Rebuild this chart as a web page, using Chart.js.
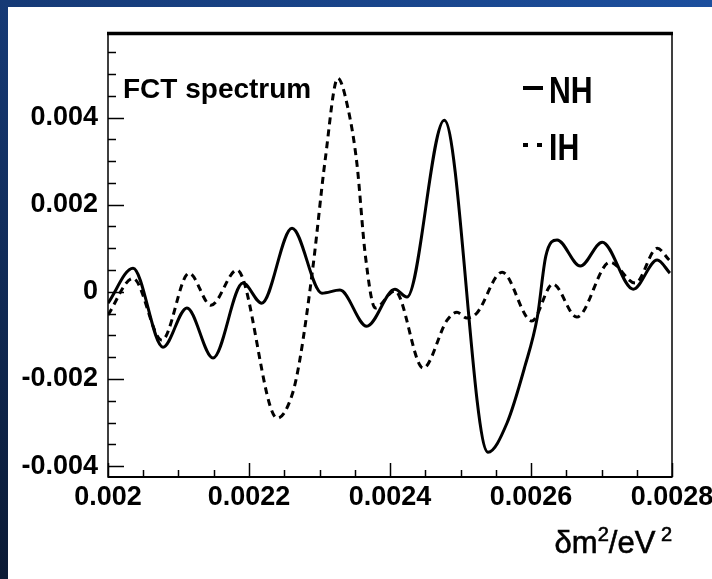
<!DOCTYPE html>
<html>
<head>
<meta charset="utf-8">
<script src="https://cdn.jsdelivr.net/npm/chart.js@4/dist/chart.umd.min.js"></script>
<style>
  html, body { margin: 0; padding: 0; background: #ffffff; }
  #wrap { width: 712px; height: 579px; position: relative; }
</style>
</head>
<body>
<div id="wrap"><canvas id="c" width="712" height="579"></canvas></div>
<script>
// ---- data ----
const xTickValues = [0.002, 0.0022, 0.0024, 0.0026, 0.0028];
const xTickLabels = ['0.002', '0.0022', '0.0024', '0.0026', '0.0028'];
const yTickValues = [-0.004, -0.002, 0, 0.002, 0.004];
const yTickLabels = ['-0.004', '-0.002', '0', '0.002', '0.004'];

const seriesNames = ['NH', 'IH'];
const titleText = 'FCT spectrum';

const nhX = [0.002000, 0.0020355, 0.002078, 0.002112, 0.002149, 0.0021915, 0.002218, 0.002261,
             0.0023035, 0.002329, 0.002367, 0.002407, 0.002424, 0.002477, 0.002539, 0.002566,
             0.002591, 0.002609, 0.002621, 0.002637, 0.002670, 0.002701, 0.002745, 0.002779, 0.002797];
const nhY = [-0.00026, 0.00054, -0.00127, -0.00037, -0.00152, 0.00020, -0.00026, 0.00146,
             -0.00003, 0.00004, -0.00079, 0.00006, -0.00012, 0.00394, -0.00368, -0.00301,
             -0.00173, -0.00058, 0.00082, 0.00119, 0.00059, 0.00114, 0.00006, 0.00073, 0.00043];

const ihX = [0.002000, 0.0020355, 0.0020766, 0.002115, 0.002146, 0.002183, 0.002240, 0.002261,
             0.002272, 0.002291, 0.002308, 0.002326, 0.002340, 0.002353, 0.002365, 0.002379,
             0.002407, 0.002447, 0.002481, 0.002495, 0.002509, 0.002523, 0.002559, 0.002601,
             0.002631, 0.002665, 0.002712, 0.002748, 0.002779, 0.002796];
const ihY = [-0.00053, 0.00031, -0.00111, 0.00043, -0.00031, 0.00050, -0.00290, -0.00237,
             -0.00157, 0.00061, 0.00302, 0.00490, 0.00424, 0.00295, 0.00084, -0.00037,
             0.00002, -0.00175, -0.00065, -0.00047, -0.00060, -0.00049, 0.00045, -0.00067,
             0.00018, -0.00058, 0.00068, 0.00020, 0.00100, 0.00073];

const xMin = 0.002, xMax = 0.0028;
const yMin = -0.00425, yMax = 0.00594;
const xMinorStep = 0.00005, yMinorStep = 0.0005;

// ---- styling ----
const FONT = "'Liberation Sans', Arial, Helvetica, sans-serif";

const toPoints = (xs, ys) => xs.map((x, i) => ({ x: x, y: ys[i] }));

const decor = {
  id: 'decor',
  beforeDraw(chart) {
    const { ctx, width, height } = chart;
    ctx.save();
    const g = ctx.createLinearGradient(0, height, width, 0);
    g.addColorStop(0, '#0b1a34');
    g.addColorStop(0.4, '#163a76');
    g.addColorStop(1, '#1c4f9e');
    ctx.fillStyle = g;
    ctx.fillRect(0, 0, width, height);
    ctx.fillStyle = '#ffffff';
    ctx.fillRect(8, 7, width - 8, height - 7);
    ctx.restore();
  },
  afterDraw(chart) {
    const { ctx, chartArea } = chart;
    const { left, right, top, bottom } = chartArea;
    const xs = chart.scales.x, ys = chart.scales.y;
    ctx.save();
    ctx.strokeStyle = '#000';
    ctx.lineWidth = 1.5;
    // x ticks (inside, at bottom)
    const nx = Math.round((xMax - xMin) / xMinorStep);
    for (let i = 0; i <= nx; i++) {
      const v = xMin + i * xMinorStep;
      const p = Math.round(xs.getPixelForValue(v)) + 0.5;
      const len = (i % 4 === 0) ? 14 : 7;
      ctx.beginPath(); ctx.moveTo(p, bottom); ctx.lineTo(p, bottom - len); ctx.stroke();
    }
    // y ticks (inside, at left)
    for (let i = -20; i <= 20; i++) {
      const v = i * yMinorStep;
      if (v < yMin || v > yMax) continue;
      const p = Math.round(ys.getPixelForValue(v)) + 0.5;
      const len = (i % 4 === 0) ? 16 : 8;
      ctx.beginPath(); ctx.moveTo(left, p); ctx.lineTo(left + len, p); ctx.stroke();
    }
    // frame
    ctx.lineWidth = 1.5;
    ctx.strokeRect(left, top, right - left, bottom - top);
    ctx.lineWidth = 3.5;
    ctx.beginPath(); ctx.moveTo(left - 1, top + 0.5); ctx.lineTo(right + 1, top + 0.5); ctx.stroke();
    ctx.lineWidth = 2;
    ctx.beginPath(); ctx.moveTo(left, bottom); ctx.lineTo(right, bottom); ctx.stroke();

    // title text inside the frame
    ctx.fillStyle = '#000';
    ctx.font = 'bold 28px ' + FONT;
    ctx.textBaseline = 'alphabetic';
    ctx.textAlign = 'left';
    ctx.fillText(titleText, left + 15, top + 65);

    // legend
    const lx = 523;
    const ly = [88, 145];
    const ds = chart.data.datasets;
    for (let k = 0; k < ds.length; k++) {
      ctx.save();
      ctx.strokeStyle = '#000';
      ctx.lineWidth = 4;
      ctx.setLineDash(k === 0 ? [] : [5, 9]);
      ctx.beginPath(); ctx.moveTo(lx, ly[k]); ctx.lineTo(lx + 20, ly[k]); ctx.stroke();
      ctx.restore();
      ctx.save();
      ctx.translate(lx + 26, ly[k] + 15);
      ctx.scale(0.84, 1);
      ctx.font = 'bold 36px ' + FONT;
      ctx.fillStyle = '#000';
      ctx.textBaseline = 'alphabetic';
      ctx.fillText(ds[k].label, 0, 0);
      ctx.restore();
    }

    // x-axis title  δm^2/eV^2  (right aligned to the frame)
    const base = '31px ' + FONT, sup = '20px ' + FONT;
    const parts = [['δm', base, 0], ['2', sup, -12], ['/eV', base, 0], [' 2', sup, -12]];
    let total = 0;
    parts.forEach(p => { ctx.font = p[1]; total += ctx.measureText(p[0]).width; });
    let x = right - total;
    const by = 553;
    ctx.lineWidth = 0.6;
    ctx.strokeStyle = '#000';
    parts.forEach(p => {
      ctx.font = p[1];
      ctx.fillText(p[0], x, by + p[2]);
      ctx.strokeText(p[0], x, by + p[2]);
      x += ctx.measureText(p[0]).width;
    });
    ctx.restore();
  }
};

new Chart(document.getElementById('c'), {
  type: 'line',
  data: {
    datasets: [
      {
        label: seriesNames[0],
        data: toPoints(nhX, nhY),
        borderColor: '#000',
        borderWidth: 3,
        pointRadius: 0,
        fill: false,
        cubicInterpolationMode: 'monotone'
      },
      {
        label: seriesNames[1],
        data: toPoints(ihX, ihY),
        borderColor: '#000',
        borderWidth: 3,
        borderDash: [7, 5],
        pointRadius: 0,
        fill: false,
        cubicInterpolationMode: 'monotone'
      }
    ]
  },
  options: {
    responsive: false,
    animation: false,
    devicePixelRatio: 1,
    layout: { padding: { left: 0, top: 33, right: 40, bottom: 0 } },
    plugins: { legend: { display: false }, tooltip: { enabled: false }, title: { display: false } },
    scales: {
      x: {
        type: 'linear',
        min: xMin, max: xMax,
        grid: { display: false, drawTicks: false },
        border: { display: false },
        afterBuildTicks: s => { s.ticks = xTickValues.map(v => ({ value: v })); },
        afterFit: s => { s.height = 102; s.paddingLeft = 0; s.paddingRight = 0; },
        ticks: {
          autoSkip: false, maxRotation: 0, padding: 4, color: '#000',
          font: { family: FONT, size: 27, weight: 'bold' },
          callback: (v, i) => xTickLabels[i]
        }
      },
      y: {
        type: 'linear',
        min: yMin, max: yMax,
        grid: { display: false, drawTicks: false },
        border: { display: false },
        afterBuildTicks: s => { s.ticks = yTickValues.map(v => ({ value: v })); },
        afterFit: s => { s.width = 108; s.paddingTop = 0; s.paddingBottom = 0; },
        ticks: {
          autoSkip: false, padding: 10, color: '#000',
          font: { family: FONT, size: 27, weight: 'bold' },
          callback: (v, i) => yTickLabels[i]
        }
      }
    }
  },
  plugins: [decor]
});
</script>
</body>
</html>
